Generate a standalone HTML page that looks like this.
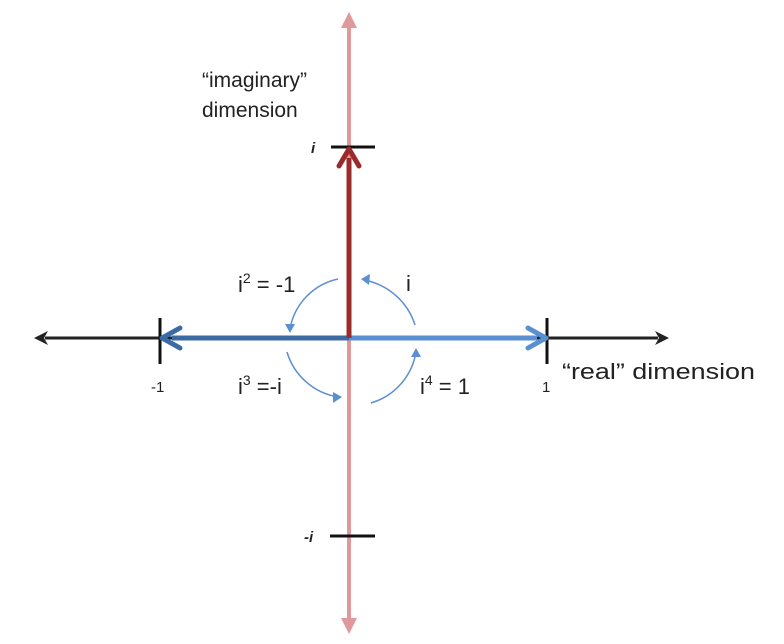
<!DOCTYPE html>
<html><head><meta charset="utf-8"><style>
html,body{margin:0;padding:0;background:#fff;}
svg{display:block;}
text{font-family:"Liberation Sans",sans-serif;fill:#222;}
</style></head><body>
<svg width="784" height="644" viewBox="0 0 784 644" xmlns="http://www.w3.org/2000/svg">
<line x1="349" y1="24" x2="349" y2="622" stroke="#e0999b" stroke-width="4"/>
<polygon points="349,12 341,28 357,28" fill="#e0999b"/>
<polygon points="349,634 341,618 357,618" fill="#e0999b"/>
<line x1="45" y1="338" x2="658" y2="338" stroke="#222" stroke-width="3"/>
<polygon points="34,338 48,331 44,338 48,345" fill="#222"/>
<polygon points="669,338 655,331 659,338 655,345" fill="#222"/>
<line x1="160" y1="318" x2="160" y2="364" stroke="#111" stroke-width="3"/>
<line x1="547" y1="318" x2="547" y2="364" stroke="#111" stroke-width="3"/>
<line x1="331" y1="147" x2="375" y2="147" stroke="#111" stroke-width="3"/>
<line x1="330" y1="536" x2="375" y2="536" stroke="#111" stroke-width="3"/>
<line x1="349" y1="338" x2="172" y2="338" stroke="#3b6ba5" stroke-width="5"/>
<path d="M162,338 L180,328 M162,338 L180,348" stroke="#3b6ba5" stroke-width="5" fill="none" stroke-linecap="round"/>
<line x1="349" y1="338" x2="537" y2="338" stroke="#5a8fd1" stroke-width="5"/>
<path d="M546,338 L528,328 M546,338 L528,348" stroke="#5a8fd1" stroke-width="5" fill="none" stroke-linecap="round"/>
<line x1="349" y1="338" x2="349" y2="158" stroke="#9b2b2b" stroke-width="5"/>
<path d="M349,149 L339,166 M349,149 L359,166" stroke="#9b2b2b" stroke-width="5" fill="none" stroke-linecap="round"/>
<g stroke="#5a8fd1" stroke-width="1.5" fill="none">
<path d="M415,325 A66,66 0 0 0 364,280"/>
<path d="M338,279 A62,62 0 0 0 290,329"/>
<path d="M287,352 A64,64 0 0 0 338,397"/>
<path d="M371,403 A64,64 0 0 0 416,352"/>
</g>
<g fill="#5a8fd1">
<polygon points="361,279 370,274 369,285"/>
<polygon points="290,333 285,324 295,324"/>
<polygon points="342,397 333,392 333,403"/>
<polygon points="416,348 411,357 421,357"/>
</g>
<text x="202" y="87" font-size="21">“imaginary”</text>
<text x="202" y="117" font-size="21">dimension</text>
<text x="311" y="153" font-size="15" font-style="italic" font-weight="bold">i</text>
<text x="304" y="542" font-size="15" font-style="italic" font-weight="bold">-i</text>
<text x="151" y="392" font-size="15">-1</text>
<text x="542" y="392" font-size="15">1</text>
<text x="562" y="379" font-size="22" textLength="193" lengthAdjust="spacingAndGlyphs">“real” dimension</text>
<text x="238" y="292" font-size="22">i<tspan font-size="14" dy="-9">2</tspan><tspan dy="9"> = -1</tspan></text>
<text x="406" y="291" font-size="22">i</text>
<text x="238" y="394" font-size="22">i<tspan font-size="14" dy="-9">3</tspan><tspan dy="9"> =-i</tspan></text>
<text x="420" y="394" font-size="22">i<tspan font-size="14" dy="-9">4</tspan><tspan dy="9"> = 1</tspan></text>
</svg>
</body></html>
